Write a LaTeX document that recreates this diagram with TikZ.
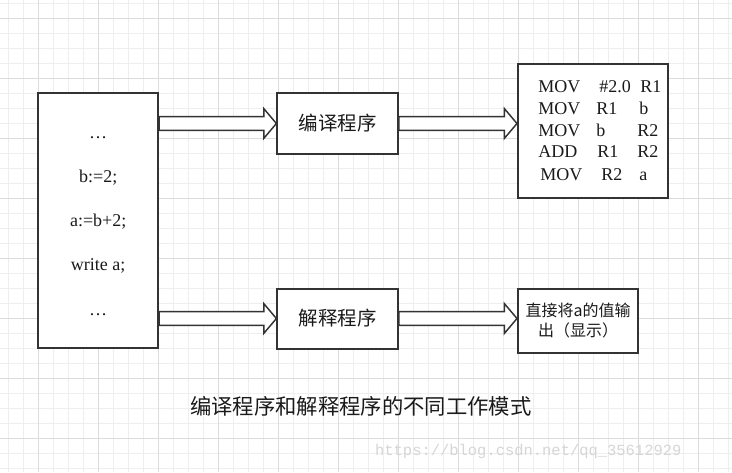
\documentclass[tikz,border=0pt]{standalone}
\usepackage{fontspec}
\setmainfont{Liberation Serif}
\newfontfamily\cjk{Noto Sans CJK SC}
\newfontfamily\monof{Liberation Mono}
\usetikzlibrary{calc}
\definecolor{gridminor}{HTML}{EEEEEE}
\definecolor{gridmajor}{HTML}{DCDCDC}
\definecolor{edge}{HTML}{333333}
\definecolor{wmark}{HTML}{D6D6D6}
\definecolor{ink}{HTML}{1A1A1A}
\tikzset{
  box/.style={draw=edge, line width=1.5pt, fill=white, inner sep=0pt, rectangle},
  code/.style={font=\fontsize{13.5pt}{16pt}\selectfont, inner sep=0pt, text=ink},
  cjklabel/.style={font=\cjk\fontsize{14.6pt}{17pt}\selectfont, inner sep=0pt, text=ink},
  barrow/.style={draw=edge, line width=1.1pt, fill=white, line join=miter},
  minorline/.style={draw=gridminor, line width=0.75pt},
  majorline/.style={draw=gridmajor, line width=0.75pt}
}
\newcommand\blockarrow[2]{%
  \draw[barrow] let \p1=(#1), \p2=(#2) in
    (\x1,\y1+5.1pt) -- (\x2-9.4pt,\y1+5.1pt) -- (\x2-9.4pt,\y1+11.1pt) -- (\x2,\y1)
    -- (\x2-9.4pt,\y1-11.1pt) -- (\x2-9.4pt,\y1-5.1pt) -- (\x1,\y1-5.1pt) -- cycle;}
\begin{document}
\begin{tikzpicture}[x=0.75pt,y=-0.75pt]
\useasboundingbox (0,0) rectangle (732,472);
\fill[white] (0,0) rectangle (732,472);
% grid
\foreach \i in {0,...,48} \draw[minorline] ({8.3+15*\i},0) -- ({8.3+15*\i},472);
\foreach \i in {0,...,31} \draw[minorline] (0,{3.3+15*\i}) -- (732,{3.3+15*\i});
\foreach \i in {0,...,11} \draw[majorline] ({38.3+60*\i},0) -- ({38.3+60*\i},472);
\foreach \i in {0,...,7} \draw[majorline] (0,{18.3+60*\i}) -- (732,{18.3+60*\i});

% boxes
\node[box, minimum width=90pt, minimum height=191.25pt] (src) at (98.2,220.8) {};
\node[box, minimum width=90.3pt, minimum height=45.3pt] (comp) at (337.6,123.5) {};
\node[box, minimum width=90.3pt, minimum height=45pt] (interp) at (337.6,318.5) {};
\node[box, minimum width=112.5pt, minimum height=101pt] (obj) at (593,131) {};
\node[box, minimum width=90pt, minimum height=48pt] (out) at (578,320.5) {};

% arrows
\blockarrow{src.east |- comp.west}{comp.west}
\blockarrow{src.east |- interp.west}{interp.west}
\blockarrow{comp.east}{comp.east -| obj.west}
\blockarrow{interp.east}{interp.east -| out.west}

% source text
\node[code, anchor=base] (s1) at (98.2,138.5) {…};
\node[code, anchor=base] (s2) at (98.2,182.5) {b:=2;};
\node[code, anchor=base] (s3) at (98.2,226.5) {a:=b+2;};
\node[code, anchor=base] (s4) at (98.2,270) {write a;};
\node[code, anchor=base] (s5) at (98.2,315) {…};

% program boxes text
\node[cjklabel] (ct) at (comp.center) {编译程序};
\node[cjklabel] (it) at (interp.center) {解释程序};

% object code
\node[code, anchor=base west] (o1) at (538,92.3) {\makebox[45.75pt][l]{MOV}\makebox[30.75pt][l]{\#2.0}R1};
\node[code, anchor=base west] (o2) at (538,114.3) {\makebox[43.5pt][l]{MOV}\makebox[32.25pt][l]{R1}b};
\node[code, anchor=base west] (o3) at (538,136) {\makebox[43.5pt][l]{MOV}\makebox[30.75pt][l]{b}R2};
\node[code, anchor=base west] (o4) at (538,157.7) {\makebox[44.25pt][l]{ADD}\makebox[30pt][l]{R1}R2};
\node[code, anchor=base west] (o5) at (540,180.3) {\makebox[45.75pt][l]{MOV}\makebox[28.5pt][l]{R2}a};

% output box text
\node[font=\cjk\fontsize{12pt}{14.5pt}\selectfont, align=center, inner sep=0pt, text=ink] (ot) at (out.center) {直接将a的值输\\出（显示）};

% caption
\node[font=\cjk\fontsize{16pt}{19pt}\selectfont, inner sep=0pt, text=ink] (cap) at (360.8,406.7) {编译程序和解释程序的不同工作模式};

% watermark
\node[font=\monof\fontsize{11.6pt}{14pt}\selectfont, inner sep=0pt, text=wmark] (wm) at (528.3,451.7) {https://blog.csdn.net/qq\_35612929};
\end{tikzpicture}
\end{document}
